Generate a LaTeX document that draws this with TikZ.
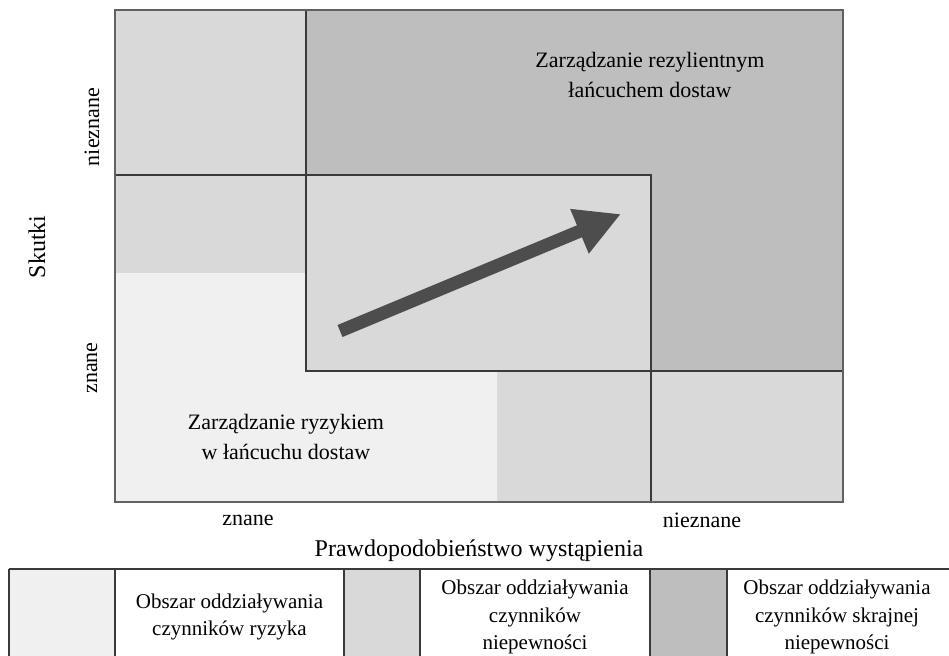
\documentclass[tikz,border=0pt]{standalone}
\usepackage{fontspec}
\setmainfont{Liberation Serif}
\usetikzlibrary{arrows.meta}

\definecolor{zoneLight}{HTML}{F0F0F0}
\definecolor{zoneMid}{HTML}{D9D9D9}
\definecolor{zoneDark}{HTML}{BEBEBE}
\definecolor{frameLine}{HTML}{3A3A3A}
\definecolor{arrowGray}{HTML}{4D4D4D}

\tikzset{
  lbl/.style={font=\fontsize{22}{30}\selectfont, align=center, inner sep=0pt, text=black},
  leglbl/.style={lbl, font=\fontsize{21}{27.5}\selectfont},
  axtitle/.style={lbl, font=\fontsize{24}{30}\selectfont},
  grid line/.style={draw=frameLine, line width=1.3pt},
  outer line/.style={draw=frameLine!80, line width=1.8pt},
  trend/.style={draw=arrowGray, line width=13pt,
    -{Triangle[width=45pt, length=45pt]}},
}

\begin{document}
\begin{tikzpicture}[x=1pt, y=-1pt]
  \useasboundingbox (0,0) rectangle (949,655);
  \clip (0,0) rectangle (949,655);

  % matrix background and zones
  \fill[zoneMid] (115,10) rectangle (843,502);
  \fill[zoneDark] (306,10) -- (843,10) -- (843,371) -- (651,371)
        -- (651,175) -- (306,175) -- cycle;
  \fill[zoneLight] (115,273) -- (306,273) -- (306,371) -- (497,371)
        -- (497,502) -- (115,502) -- cycle;
  \fill[zoneMid] (306,175) rectangle (651,371);

  % division lines
  \draw[grid line] (306,10) -- (306,175);
  \draw[grid line] (115,175) -- (651,175);
  \draw[grid line] (306,175) rectangle (651,371);
  \draw[grid line] (651,371) -- (651,502);
  \draw[grid line] (651,371) -- (843,371);
  \draw[outer line] (115,10) rectangle (843,502);

  % zone labels
  \node[lbl] (resil) at (650,75) {Zarządzanie rezylientnym\\łańcuchem dostaw};
  \node[lbl] (risk) at (286,437) {Zarządzanie ryzykiem\\w łańcuchu dostaw};

  % trend arrow
  \coordinate (trendStart) at (340,331);
  \coordinate (trendEnd) at (621,214);
  \draw[trend] (trendStart) -- (trendEnd);

  % axis labels
  \node[axtitle, rotate=90] (yTitle) at (37,247) {Skutki};
  \node[lbl, rotate=90] (yHigh) at (92,127) {nieznane};
  \node[lbl, rotate=90] (yLow) at (92,368) {znane};
  \node[lbl] (xLow) at (248,520) {znane};
  \node[lbl] (xHigh) at (702,520) {nieznane};
  \node[axtitle] (xTitle) at (479,551) {Prawdopodobieństwo wystąpienia};

  % legend
  \fill[zoneLight] (9,569) rectangle (115,660);
  \fill[zoneMid] (344,569) rectangle (420,660);
  \fill[zoneDark] (650,569) rectangle (727,660);
  \draw[grid line] (9,569) -- (949,569);
  \foreach \lx in {9,115,344,420,650,727}
    \draw[grid line] (\lx,569) -- (\lx,660);

  \node[leglbl] (legRisk) at (229.5,617) {Obszar oddziaływania\\czynników ryzyka};
  \node[leglbl] (legUnc) at (535,617) {Obszar oddziaływania\\czynników\\niepewności};
  \node[leglbl] (legExt) at (837,617) {Obszar oddziaływania\\czynników skrajnej\\niepewności};
\end{tikzpicture}
\end{document}
